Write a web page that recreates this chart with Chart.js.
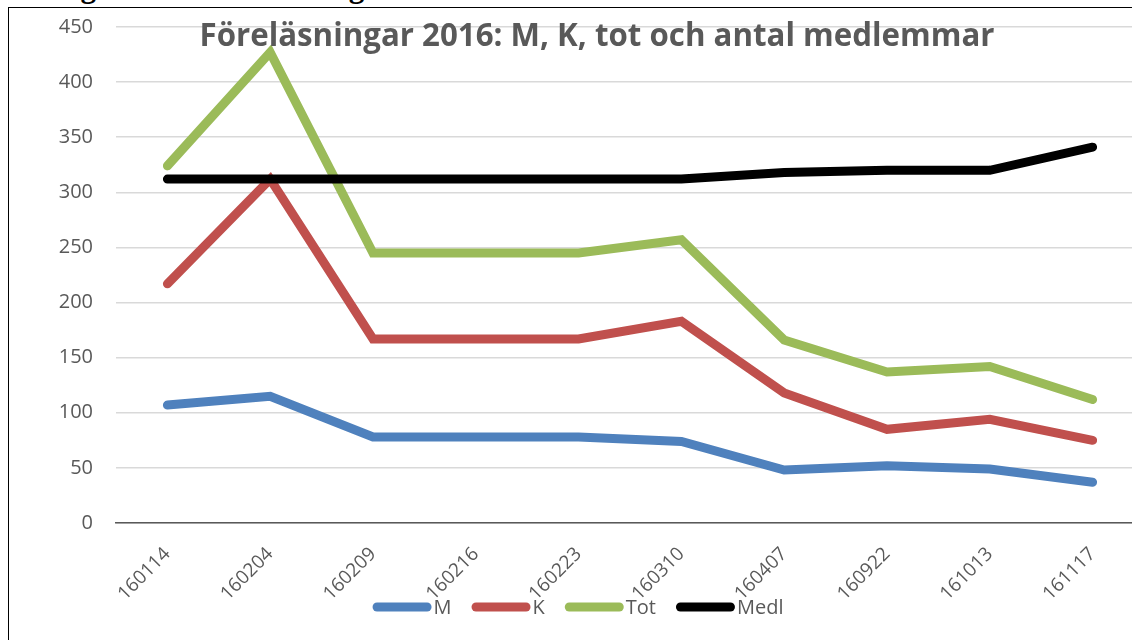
<!DOCTYPE html>
<html>
<head>
<meta charset="utf-8">
<script src="https://cdn.jsdelivr.net/npm/chart.js@4/dist/chart.umd.min.js"></script>
<style>
  html, body { margin: 0; padding: 0; background: #fff; overflow: hidden; width: 1132px; height: 640px; }
  #rubrik {
    position: absolute; left: 10px; top: -28px; margin: 0;
    font: bold 31px "Liberation Serif", serif; line-height: 30px; color: #000; white-space: nowrap;
  }
  #ram {
    position: absolute; left: 8px; top: 7px; width: 1200px; height: 700px;
    border-left: 1.5px solid #000; border-top: 1.5px solid #000; pointer-events: none; background: transparent;
  }
  #wrap { position: absolute; left: 0; top: 0; width: 1156px; height: 640px; }
</style>
</head>
<body>
<p id="rubrik">Deltagande vid föreläsningar 2016</p>
<div id="wrap"><canvas id="grafica"></canvas></div>
<div id="ram"></div>
<script>
const kategorier = ["160114", "160204", "160209", "160216", "160223", "160310", "160407", "160922", "161013", "161117"];
const serieM = [107, 115, 78, 78, 78, 74, 48, 52, 49, 37];
const serieK = [217, 312, 167, 167, 167, 183, 118, 85, 94, 75];
const serieTot = [324, 427, 245, 245, 245, 257, 166, 137, 142, 112];
const serieMedl = [312, 312, 312, 312, 312, 312, 318, 320, 320, 341];
const yMin = 0, yMax = 450, yStep = 50;
const titel = "Föreläsningar 2016: M, K, tot och antal medlemmar";

const gris = "#595959";

// titel ritas inne i diagramytan, som i Excel
const titelPlugin = {
  id: "titel",
  afterDraw(chart) {
    const ctx = chart.ctx;
    ctx.save();
    ctx.font = 'bold 32px "Open Sans"';
    const w = ctx.measureText(titel).width;
    ctx.translate(597, 46);
    ctx.scale(795 / w, 1);
    ctx.fillStyle = gris;
    ctx.textAlign = "center";
    ctx.textBaseline = "alphabetic";
    ctx.fillText(titel, 0, 0);
    ctx.restore();
  }
};

// egen förklaring: linje och text direkt efter
const forklaring = {
  id: "forklaring",
  afterDraw(chart) {
    const ctx = chart.ctx;
    const linje = 59, mellan = 2, avstand = 20, y = 607;
    ctx.save();
    ctx.font = '20px "Open Sans"';
    const sets = chart.data.datasets;
    let total = 0;
    sets.forEach((ds, i) => {
      total += linje + mellan + ctx.measureText(ds.label).width;
      if (i < sets.length - 1) total += avstand;
    });
    let x = chart.width / 2 - total / 2;
    sets.forEach(ds => {
      ctx.strokeStyle = ds.borderColor;
      ctx.lineWidth = 9;
      ctx.lineCap = "round";
      ctx.beginPath();
      ctx.moveTo(x + 4.5, y);
      ctx.lineTo(x + linje - 4.5, y);
      ctx.stroke();
      x += linje + mellan;
      ctx.fillStyle = gris;
      ctx.textBaseline = "middle";
      ctx.fillText(ds.label, x, y + 1);
      x += ctx.measureText(ds.label).width + avstand;
    });
    ctx.restore();
  }
};

function serie(label, data, color, order) {
  return {
    label: label,
    data: data,
    borderColor: color,
    backgroundColor: color,
    borderWidth: 9,
    borderCapStyle: "round",
    borderJoinStyle: "miter",
    pointRadius: 0,
    tension: 0,
    order: order
  };
}

new Chart(document.getElementById("grafica"), {
  type: "line",
  data: {
    labels: kategorier,
    datasets: [
      serie("M", serieM, "#4F81BD", 4),
      serie("K", serieK, "#C0504D", 3),
      serie("Tot", serieTot, "#9BBB59", 2),
      serie("Medl", serieMedl, "#000000", 1)
    ]
  },
  options: {
    responsive: true,
    maintainAspectRatio: false,
    animation: false,
    layout: { padding: { top: 27, right: 12, bottom: 0, left: 0 } },
    plugins: {
      legend: { display: false },
      tooltip: { enabled: false }
    },
    scales: {
      x: {
        offset: true,
        grid: { display: false },
        border: { display: true, color: gris, width: 1.5 },
        ticks: {
          color: gris,
          font: { family: "Open Sans", size: 19 },
          minRotation: 45,
          maxRotation: 45,
          autoSkip: false,
          padding: 12
        },
        afterFit(axis) { axis.height = 117; }
      },
      y: {
        min: yMin,
        max: yMax,
        grid: { color: "#d9d9d9", lineWidth: 1.5, drawTicks: false },
        border: { display: false },
        ticks: {
          stepSize: yStep,
          color: gris,
          font: { family: "Open Sans", size: 20 },
          padding: 23
        },
        afterFit(axis) {
          axis.width = 116;
          axis.paddingTop = 0;
          axis.paddingBottom = 0;
        }
      }
    }
  },
  plugins: [titelPlugin, forklaring]
});
</script>
</body>
</html>
